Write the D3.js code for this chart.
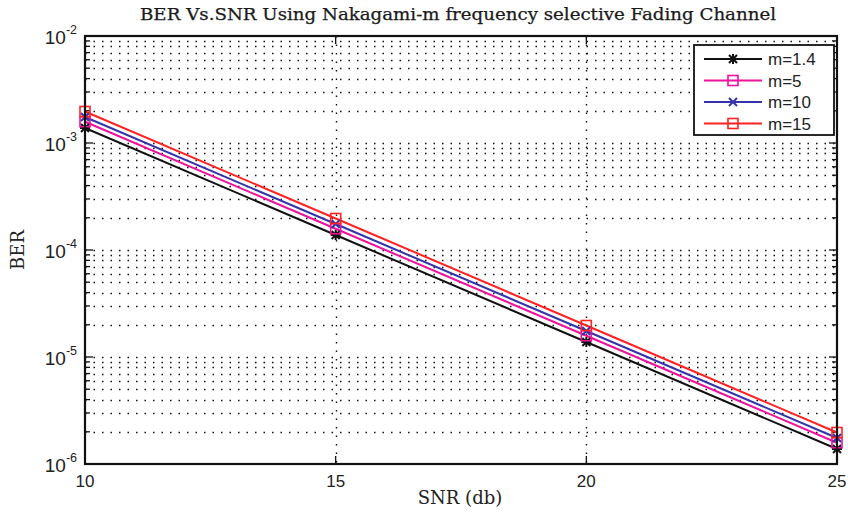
<!DOCTYPE html>
<html><head><meta charset="utf-8">
<script src="https://cdn.jsdelivr.net/npm/d3@7"></script>
<style>body{margin:0;background:#fff}svg{display:block}</style>
</head><body>
<svg id="c" width="848" height="515"></svg>
<script>
const snr = [10, 15, 20, 25];
const ber_m1_4 = [1.38e-3, 1.38e-4, 1.38e-5, 1.38e-6];
const ber_m5   = [1.58e-3, 1.58e-4, 1.58e-5, 1.58e-6];
const ber_m10  = [1.75e-3, 1.75e-4, 1.75e-5, 1.75e-6];
const ber_m15  = [1.97e-3, 1.97e-4, 1.97e-5, 1.97e-6];
const seriesNames = ["m=1.4", "m=5", "m=10", "m=15"];
const xTicks = [10, 15, 20, 25];
const yExps = [-2, -3, -4, -5, -6];

const series = [
  {name: seriesNames[0], vals: ber_m1_4, color: "#111111", marker: "star"},
  {name: seriesNames[1], vals: ber_m5, color: "#ee1199", marker: "square"},
  {name: seriesNames[2], vals: ber_m10, color: "#3333aa", marker: "x"},
  {name: seriesNames[3], vals: ber_m15, color: "#ff2222", marker: "square"}
];

const svg = d3.select("#c");
const L = 85, R = 837, T = 36, B = 464;
const x = d3.scaleLinear().domain([10, 25]).range([L, R]);
const y = d3.scaleLog().domain([1e-6, 1e-2]).range([B, T]);

// grid
const g = svg.append("g");
const minorVals = [];
for (let e = -6; e < -2; e++) for (let k = 1; k <= 9; k++) minorVals.push(k * Math.pow(10, e));
minorVals.push(1e-2);
g.selectAll("line.hg").data(minorVals.filter(v => v > 1e-6 && v < 1e-2)).enter().append("line")
  .attr("x1", L).attr("x2", R).attr("y1", d => Math.round(y(d)) + 0.5).attr("y2", d => Math.round(y(d)) + 0.5)
  .attr("stroke", "#111").attr("stroke-width", 1.4).attr("stroke-dasharray", "1.5,7");
g.selectAll("line.vg").data(xTicks.slice(1, -1)).enter().append("line")
  .attr("y1", T).attr("y2", B).attr("x1", d => Math.round(x(d)) + 0.5).attr("x2", d => Math.round(x(d)) + 0.5)
  .attr("stroke", "#111").attr("stroke-width", 1.4).attr("stroke-dasharray", "1.5,7");

// ticks
const tk = svg.append("g").attr("stroke", "#111").attr("stroke-width", 1.3);
minorVals.forEach(v => {
  const isMajor = Math.abs(Math.log10(v) - Math.round(Math.log10(v))) < 1e-9;
  const len = isMajor ? 8 : 5;
  tk.append("line").attr("x1", L).attr("x2", L + len).attr("y1", y(v)).attr("y2", y(v));
  tk.append("line").attr("x1", R).attr("x2", R - len).attr("y1", y(v)).attr("y2", y(v));
});
xTicks.forEach(t => {
  tk.append("line").attr("x1", x(t)).attr("x2", x(t)).attr("y1", B).attr("y2", B - 8);
  tk.append("line").attr("x1", x(t)).attr("x2", x(t)).attr("y1", T).attr("y2", T + 8);
});

// lines
const line = d3.line().x((d, i) => x(snr[i])).y(d => y(d));
series.forEach(s => {
  svg.append("path").datum(s.vals).attr("d", line).attr("fill", "none")
    .attr("stroke", s.color).attr("stroke-width", 2);
});

function drawMarker(sel, type, cx, cy, color) {
  if (type === "square") {
    sel.append("rect").attr("x", cx - 5).attr("y", cy - 5).attr("width", 10).attr("height", 10)
      .attr("fill", "none").attr("stroke", color).attr("stroke-width", 1.6);
  } else if (type === "x") {
    sel.append("path").attr("d", `M${cx-4},${cy-4}L${cx+4},${cy+4}M${cx-4},${cy+4}L${cx+4},${cy-4}`)
      .attr("stroke", color).attr("stroke-width", 2);
  } else {
    sel.append("path").attr("d", `M${cx-5},${cy}L${cx+5},${cy}M${cx},${cy-5}L${cx},${cy+5}M${cx-4},${cy-4}L${cx+4},${cy+4}M${cx-4},${cy+4}L${cx+4},${cy-4}`)
      .attr("stroke", color).attr("stroke-width", 2);
  }
}
series.forEach(s => {
  const mg = svg.append("g");
  s.vals.forEach((v, i) => drawMarker(mg, s.marker, x(snr[i]), y(v), s.color));
});

// frame
svg.append("rect").attr("x", L).attr("y", T).attr("width", R - L).attr("height", B - T)
  .attr("fill", "none").attr("stroke", "#111").attr("stroke-width", 2.2);

// x tick labels
svg.append("g").selectAll("text").data(xTicks).enter().append("text")
  .attr("x", d => x(d)).attr("y", 487).attr("text-anchor", "middle")
  .attr("font-family", "Liberation Sans, Arial, sans-serif").attr("font-size", 17).attr("fill", "#222")
  .text(d => d);

// y tick labels
yExps.forEach(e => {
  const t = svg.append("text").attr("x", 77).attr("y", y(Math.pow(10, e)) + 8).attr("text-anchor", "end")
    .attr("font-family", "Liberation Sans, Arial, sans-serif").attr("font-size", 19).attr("fill", "#222");
  t.append("tspan").text("10");
  t.append("tspan").attr("dy", -10).attr("font-size", 12.5).text(String(e));
});

// title
svg.append("text").attr("x", 458).attr("y", 20).attr("text-anchor", "middle")
  .attr("font-family", "DejaVu Serif, serif").attr("font-size", 16.5).attr("fill", "#1a1a1a")
  .attr("stroke", "#1a1a1a").attr("stroke-width", 0.25)
  .attr("textLength", 636).attr("lengthAdjust", "spacingAndGlyphs")
  .text("BER Vs.SNR Using Nakagami-m frequency selective Fading Channel");

// axis labels
svg.append("text").attr("x", 460).attr("y", 504).attr("text-anchor", "middle")
  .attr("font-family", "DejaVu Serif, serif").attr("font-size", 18).attr("fill", "#222")
  .text("SNR (db)");
svg.append("text").attr("transform", "translate(24,250) rotate(-90)").attr("text-anchor", "middle")
  .attr("font-family", "DejaVu Serif, serif").attr("font-size", 18).attr("fill", "#222")
  .text("BER");

// legend
const lg = svg.append("g");
lg.append("rect").attr("x", 694).attr("y", 45).attr("width", 140).attr("height", 90)
  .attr("fill", "#fff").attr("stroke", "#111").attr("stroke-width", 1.8);
series.forEach((s, i) => {
  const yy = 59 + i * 21.5;
  lg.append("line").attr("x1", 704).attr("x2", 762).attr("y1", yy).attr("y2", yy)
    .attr("stroke", s.color).attr("stroke-width", 2);
  drawMarker(lg, s.marker, 733, yy, s.color);
  lg.append("text").attr("x", 768).attr("y", yy + 6).attr("font-family", "Liberation Sans, Arial, sans-serif")
    .attr("font-size", 17).attr("fill", "#222").text(s.name);
});
</script>
</body></html>
